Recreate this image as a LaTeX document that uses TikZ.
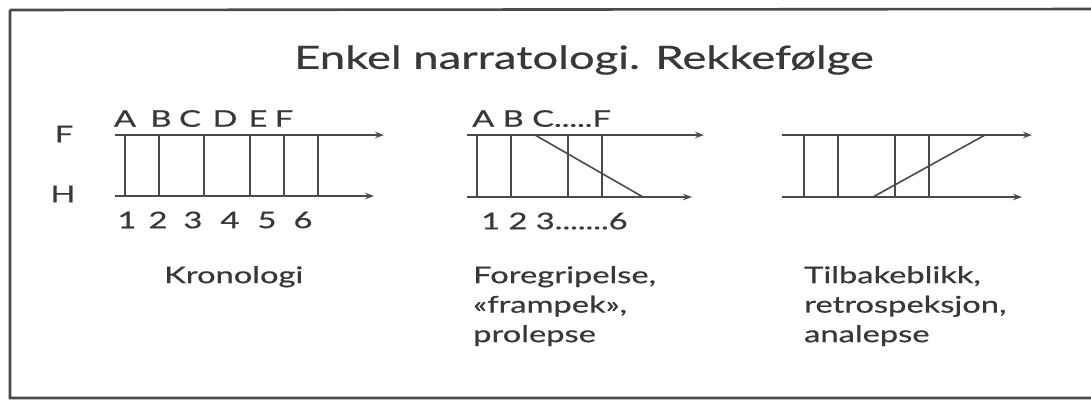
\documentclass[tikz,border=0pt]{standalone}
\usepackage{fontspec}
\setmainfont{Lato}
\newfontfamily\wf[FakeStretch=1.42,FakeBold=0.6]{Lato}
\usetikzlibrary{arrows.meta}
\definecolor{ink}{HTML}{383838}
\definecolor{rule}{HTML}{4A4A4A}
\tikzset{
  axis/.style={draw=rule, line width=1.8pt, -{Stealth[length=9pt,width=6.5pt]}},
  tick/.style={draw=rule, line width=1.6pt},
  lab/.style={text=ink, inner sep=0pt, font=\wf\fontsize{23}{29.5}\selectfont},
  captext/.style={text=ink, inner sep=0pt, anchor=north west, align=left, font=\wf\fontsize{23}{29.5}\selectfont},
  frame/.style={draw=rule, line width=2.6pt}
}
\begin{document}
\begin{tikzpicture}[x=1pt,y=-1pt]
\useasboundingbox (0,0) rectangle (1091,401);
\path[fill=white] (0,0) rectangle (1091,401);
\draw[frame] (10,10) -- (1110,9) (10,10) -- (10,398) -- (1110,398);
% title
\node[text=ink, inner sep=0pt, font=\wf\fontsize{32}{36}\selectfont] (title) at (584,60) {Enkel narratologi. Rekkefølge};
% side labels
\node[lab] (lF) at (64,134) {F};
\node[lab] (lH) at (63,194) {H};
% ---------- panel 1
\coordinate (f1s) at (115,135); \coordinate (f1e) at (384,135);
\coordinate (h1s) at (115,196); \coordinate (h1e) at (374,196);
\draw[axis] (f1s) -- (f1e);
\draw[axis] (h1s) -- (h1e);
\foreach \i/\x in {1/125,2/159,3/204,4/250,5/284,6/318}{
  \coordinate (p1t\i) at (\x,135); \coordinate (p1b\i) at (\x,196);
  \draw[tick] (p1t\i) -- (p1b\i);
}
\foreach \n/\t/\x in {a/A/125,b/B/161,c/C/190,d/D/225,e/E/258,f/F/284}{
  \node[lab] (p1l\n) at (\x,118.5) {\t};
}
\foreach \t/\x in {1/127,2/158,3/193,4/230,5/267,6/303}{
  \node[lab] (p1n\t) at (\x,220) {\t};
}
\node[captext] (cap1) at (164,266) {Kronologi};
% ---------- panel 2
\coordinate (f2s) at (467,135); \coordinate (f2e) at (704,135);
\coordinate (h2s) at (467,197); \coordinate (h2e) at (692,197);
\draw[axis] (f2s) -- (f2e);
\draw[axis] (h2s) -- (h2e);
\foreach \i/\x in {1/477,2/511,3/568,4/602}{
  \coordinate (p2t\i) at (\x,135); \coordinate (p2b\i) at (\x,197);
  \draw[tick] (p2t\i) -- (p2b\i);
}
\coordinate (d2a) at (535,135); \coordinate (d2b) at (643,197);
\draw[tick] (d2a) -- (d2b);
\node[lab, anchor=west] (p2l) at (472,118.5) {A B C.....F};
\node[lab, anchor=west] (p2n) at (481,221) {1 2 3.......6};
\node[captext] (cap2) at (473,266) {Foregripelse,\\«frampek»,\\prolepse};
% ---------- panel 3
\coordinate (f3s) at (782,135); \coordinate (f3e) at (1032,135);
\coordinate (h3s) at (782,197); \coordinate (h3e) at (1022,197);
\draw[axis] (f3s) -- (f3e);
\draw[axis] (h3s) -- (h3e);
\foreach \i/\x in {1/804,2/838,3/895,4/929}{
  \coordinate (p3t\i) at (\x,135); \coordinate (p3b\i) at (\x,197);
  \draw[tick] (p3t\i) -- (p3b\i);
}
\coordinate (d3a) at (873,197); \coordinate (d3b) at (985,135);
\draw[tick] (d3a) -- (d3b);
\node[captext] (cap3) at (804,266) {Tilbakeblikk,\\retrospeksjon,\\analepse};
\end{tikzpicture}
\end{document}
